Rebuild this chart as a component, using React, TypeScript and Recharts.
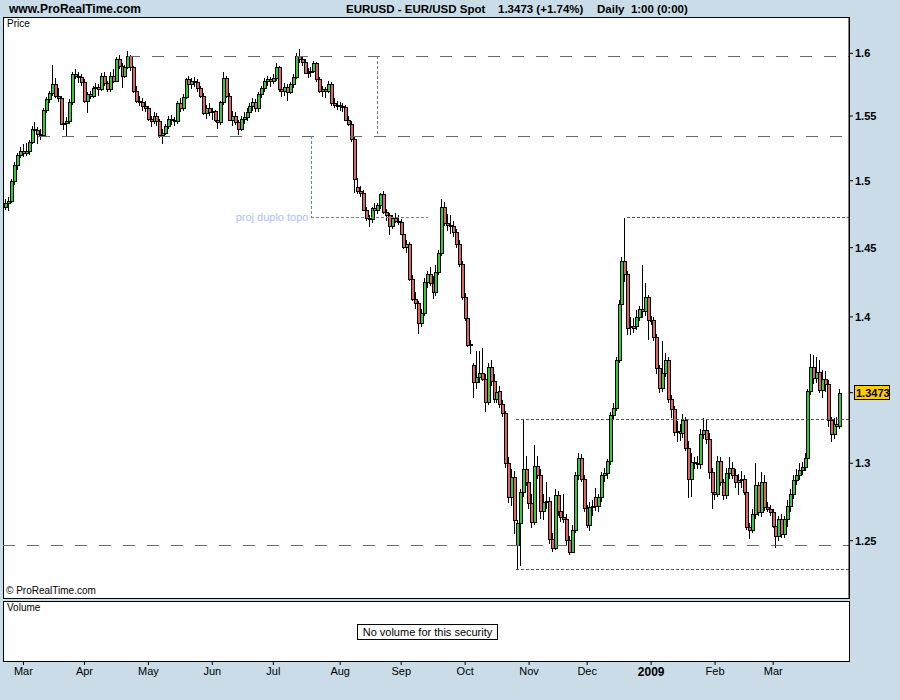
import React from 'react';
import { ComposedChart, Bar, Line, XAxis, YAxis, ReferenceLine, ReferenceDot } from 'recharts';

type Q = [number, number, number, number]; // open, high, low, close

const feb08: Q[] = [
  [1.4805,1.4860,1.4780,1.4830],[1.4830,1.4880,1.4770,1.4845],[1.4845,1.5010,1.4830,1.5000],
  [1.5000,1.5140,1.4970,1.5120],[1.5120,1.5215,1.5080,1.5200],[1.5200,1.5260,1.5170,1.5225],
];
const mar08: Q[] = [
  [1.5225,1.5280,1.5180,1.5210],[1.5210,1.5290,1.5190,1.5230],[1.5230,1.5310,1.5200,1.5300],
  [1.5300,1.5420,1.5280,1.5400],[1.5400,1.5450,1.5360,1.5390],[1.5390,1.5410,1.5285,1.5360],
  [1.5360,1.5395,1.5310,1.5350],[1.5350,1.5560,1.5340,1.5545],[1.5545,1.5650,1.5520,1.5630],
  [1.5630,1.5700,1.5600,1.5680],[1.5680,1.5905,1.5660,1.5750],[1.5750,1.5800,1.5640,1.5660],
  [1.5660,1.5720,1.5610,1.5640],[1.5640,1.5660,1.5430,1.5440],[1.5440,1.5480,1.5390,1.5445],
  [1.5445,1.5490,1.5340,1.5460],[1.5460,1.5630,1.5440,1.5610],[1.5610,1.5850,1.5590,1.5830],
  [1.5830,1.5870,1.5790,1.5820],[1.5820,1.5850,1.5760,1.5810],[1.5810,1.5830,1.5740,1.5770],
];
const apr08: Q[] = [
  [1.5770,1.5790,1.5600,1.5620],[1.5620,1.5690,1.5525,1.5670],[1.5670,1.5700,1.5630,1.5660],
  [1.5660,1.5740,1.5640,1.5720],[1.5720,1.5760,1.5680,1.5730],[1.5730,1.5750,1.5660,1.5710],
  [1.5710,1.5840,1.5700,1.5820],[1.5820,1.5850,1.5740,1.5760],[1.5760,1.5780,1.5690,1.5710],
  [1.5710,1.5850,1.5690,1.5820],[1.5820,1.5870,1.5760,1.5780],[1.5780,1.5970,1.5770,1.5950],
  [1.5950,1.5990,1.5870,1.5900],[1.5900,1.5920,1.5725,1.5820],[1.5820,1.5905,1.5800,1.5890],
  [1.5890,1.6020,1.5870,1.5980],[1.5980,1.5990,1.5860,1.5890],[1.5890,1.5900,1.5680,1.5700],
  [1.5700,1.5740,1.5600,1.5620],[1.5620,1.5660,1.5580,1.5610],[1.5610,1.5640,1.5540,1.5580],
  [1.5580,1.5620,1.5530,1.5560],
];
const may08: Q[] = [
  [1.5560,1.5580,1.5460,1.5480],[1.5480,1.5500,1.5410,1.5460],[1.5460,1.5530,1.5440,1.5500],
  [1.5500,1.5520,1.5420,1.5460],[1.5460,1.5480,1.5330,1.5350],[1.5350,1.5400,1.5285,1.5370],
  [1.5370,1.5440,1.5350,1.5420],[1.5420,1.5500,1.5400,1.5480],[1.5480,1.5510,1.5430,1.5470],
  [1.5470,1.5490,1.5420,1.5460],[1.5460,1.5620,1.5440,1.5600],[1.5600,1.5640,1.5530,1.5560],
  [1.5560,1.5670,1.5540,1.5650],[1.5650,1.5800,1.5630,1.5790],[1.5790,1.5820,1.5720,1.5750],
  [1.5750,1.5800,1.5710,1.5780],[1.5780,1.5810,1.5730,1.5770],[1.5770,1.5790,1.5690,1.5720],
  [1.5720,1.5740,1.5640,1.5660],[1.5660,1.5680,1.5510,1.5525],[1.5525,1.5590,1.5480,1.5560],
  [1.5560,1.5600,1.5500,1.5530],
];
const jun08: Q[] = [
  [1.5530,1.5560,1.5470,1.5540],[1.5540,1.5550,1.5450,1.5470],[1.5470,1.5500,1.5400,1.5450],
  [1.5450,1.5620,1.5430,1.5610],[1.5610,1.5850,1.5590,1.5800],[1.5800,1.5820,1.5640,1.5660],
  [1.5660,1.5680,1.5460,1.5470],[1.5470,1.5540,1.5420,1.5500],[1.5500,1.5530,1.5430,1.5450],
  [1.5450,1.5470,1.5350,1.5400],[1.5400,1.5500,1.5380,1.5480],[1.5480,1.5530,1.5440,1.5490],
  [1.5490,1.5560,1.5460,1.5530],[1.5530,1.5600,1.5500,1.5580],[1.5580,1.5640,1.5540,1.5610],
  [1.5610,1.5630,1.5530,1.5560],[1.5560,1.5690,1.5530,1.5670],[1.5670,1.5740,1.5640,1.5720],
  [1.5720,1.5800,1.5690,1.5780],[1.5780,1.5820,1.5740,1.5790],[1.5790,1.5810,1.5730,1.5780],
];
const jul08: Q[] = [
  [1.5780,1.5830,1.5750,1.5800],[1.5800,1.5920,1.5780,1.5890],[1.5890,1.5900,1.5690,1.5710],
  [1.5710,1.5740,1.5650,1.5700],[1.5700,1.5760,1.5660,1.5730],[1.5730,1.5750,1.5620,1.5690],
  [1.5690,1.5770,1.5670,1.5750],[1.5750,1.5830,1.5720,1.5810],[1.5810,1.6000,1.5790,1.5980],
  [1.5980,1.6038,1.5920,1.5950],[1.5950,1.5980,1.5900,1.5930],[1.5930,1.5950,1.5830,1.5840],
  [1.5840,1.5880,1.5800,1.5850],[1.5850,1.5890,1.5810,1.5860],[1.5860,1.5940,1.5840,1.5920],
  [1.5920,1.5930,1.5770,1.5790],[1.5790,1.5810,1.5680,1.5700],[1.5700,1.5740,1.5650,1.5710],
  [1.5710,1.5730,1.5640,1.5700],[1.5700,1.5780,1.5680,1.5750],[1.5750,1.5770,1.5580,1.5600],
  [1.5600,1.5640,1.5560,1.5590],[1.5590,1.5620,1.5550,1.5585],
];
const aug08: Q[] = [
  [1.5585,1.5610,1.5540,1.5575],[1.5575,1.5600,1.5530,1.5570],[1.5570,1.5590,1.5460,1.5470],
  [1.5470,1.5500,1.5420,1.5440],[1.5440,1.5460,1.5300,1.5320],[1.5320,1.5340,1.4910,1.5010],
  [1.4950,1.5020,1.4900,1.4920],[1.4920,1.4960,1.4880,1.4905],[1.4905,1.4930,1.4770,1.4780],
  [1.4780,1.4800,1.4700,1.4720],[1.4720,1.4740,1.4655,1.4710],[1.4710,1.4800,1.4680,1.4795],
  [1.4795,1.4830,1.4740,1.4780],[1.4780,1.4830,1.4750,1.4815],[1.4815,1.4910,1.4790,1.4900],
  [1.4900,1.4920,1.4750,1.4765],[1.4765,1.4790,1.4700,1.4740],[1.4740,1.4760,1.4597,1.4660],
  [1.4660,1.4740,1.4640,1.4720],[1.4720,1.4760,1.4680,1.4700],[1.4700,1.4740,1.4670,1.4693],
];
const sep08: Q[] = [
  [1.4693,1.4710,1.4590,1.4602],[1.4602,1.4620,1.4490,1.4505],[1.4505,1.4560,1.4460,1.4525],
  [1.4525,1.4540,1.4260,1.4272],[1.4272,1.4300,1.4110,1.4130],[1.4130,1.4180,1.4060,1.4097],
  [1.4097,1.4110,1.3880,1.3955],[1.3955,1.4060,1.3930,1.4030],[1.4030,1.4280,1.4010,1.4248],
  [1.4248,1.4330,1.4210,1.4310],[1.4310,1.4360,1.4220,1.4245],[1.4245,1.4290,1.4130,1.4178],
  [1.4178,1.4370,1.4150,1.4323],[1.4323,1.4480,1.4300,1.4463],[1.4463,1.4865,1.4440,1.4800],
  [1.4800,1.4840,1.4660,1.4680],[1.4680,1.4750,1.4620,1.4665],[1.4665,1.4740,1.4600,1.4660],
  [1.4660,1.4700,1.4580,1.4615],[1.4615,1.4640,1.4500,1.4525],[1.4525,1.4560,1.4360,1.4380],
  [1.4380,1.4400,1.4120,1.4145],
];
const oct08: Q[] = [
  [1.4145,1.4170,1.3970,1.3990],[1.3990,1.4020,1.3790,1.3800],[1.3800,1.3840,1.3740,1.3810],
  [1.3660,1.3680,1.3440,1.3545],[1.3545,1.3760,1.3500,1.3580],[1.3580,1.3760,1.3540,1.3605],
  [1.3605,1.3780,1.3550,1.3570],[1.3570,1.3600,1.3340,1.3410],[1.3410,1.3680,1.3390,1.3650],
  [1.3650,1.3700,1.3520,1.3550],[1.3550,1.3600,1.3400,1.3430],[1.3430,1.3520,1.3400,1.3480],
  [1.3485,1.3520,1.3370,1.3395],[1.3395,1.3420,1.3310,1.3335],[1.3335,1.3350,1.2970,1.3003],
  [1.3003,1.3040,1.2740,1.2780],[1.2780,1.2960,1.2720,1.2910],[1.2910,1.2950,1.2540,1.2630],
  [1.2470,1.2630,1.2322,1.2610],[1.2610,1.2830,1.2340,1.2810],[1.2810,1.3298,1.2780,1.2960],
  [1.2960,1.3050,1.2850,1.2875],[1.2875,1.2950,1.2700,1.2740],
];
const nov08: Q[] = [
  [1.2740,1.2800,1.2580,1.2620],[1.2620,1.3120,1.2600,1.2980],[1.2980,1.3050,1.2900,1.2920],
  [1.2920,1.2960,1.2640,1.2690],[1.2690,1.2800,1.2630,1.2750],[1.2750,1.2875,1.2700,1.2755],
  [1.2755,1.2780,1.2480,1.2510],[1.2510,1.2550,1.2430,1.2455],[1.2455,1.2830,1.2440,1.2795],
  [1.2795,1.2820,1.2660,1.2690],[1.2690,1.2730,1.2620,1.2650],[1.2650,1.2800,1.2610,1.2637],
  [1.2637,1.2670,1.2470,1.2505],[1.2505,1.2530,1.2410,1.2430],[1.2430,1.2600,1.2420,1.2570],
  [1.2570,1.2940,1.2550,1.2920],[1.2920,1.3070,1.2890,1.3037],[1.3037,1.3060,1.2880,1.2900],
  [1.2900,1.2920,1.2680,1.2707],
];
const dec08: Q[] = [
  [1.2707,1.2730,1.2580,1.2600],[1.2600,1.2750,1.2560,1.2715],[1.2715,1.2760,1.2660,1.2720],
  [1.2780,1.2840,1.2690,1.2720],[1.2720,1.2800,1.2680,1.2780],[1.2780,1.2940,1.2750,1.2920],
  [1.2920,1.2970,1.2880,1.2935],[1.2935,1.3030,1.2900,1.3015],[1.3015,1.3340,1.2990,1.3320],
  [1.3320,1.3400,1.3290,1.3372],[1.3372,1.3720,1.3350,1.3700],[1.3700,1.4120,1.3680,1.4093],
  [1.4093,1.4430,1.4050,1.4400],[1.4400,1.4720,1.4250,1.4305],[1.4305,1.4330,1.3870,1.3925],
  [1.3935,1.4000,1.3870,1.3928],[1.3925,1.3990,1.3890,1.3935],[1.3935,1.4050,1.3910,1.4000],
  [1.4000,1.4080,1.3970,1.4060],[1.4060,1.4370,1.3990,1.4040],[1.4040,1.4240,1.4010,1.4140],
  [1.4140,1.4160,1.3835,1.3975],
];
const jan09: Q[] = [
  [1.3975,1.4010,1.3940,1.3980],[1.3980,1.4000,1.3830,1.3860],[1.3860,1.3880,1.3600,1.3640],
  [1.3640,1.3660,1.3470,1.3505],[1.3505,1.3830,1.3480,1.3610],[1.3610,1.3750,1.3580,1.3700],
  [1.3700,1.3720,1.3400,1.3430],[1.3430,1.3460,1.3300,1.3360],[1.3360,1.3380,1.3180,1.3210],
  [1.3210,1.3280,1.3140,1.3215],[1.3215,1.3260,1.3150,1.3200],[1.3200,1.3330,1.3170,1.3290],
  [1.3290,1.3310,1.3080,1.3100],[1.3100,1.3150,1.2775,1.2895],[1.2895,1.3070,1.2780,1.3007],
  [1.3007,1.3040,1.2960,1.3005],[1.3005,1.3050,1.2960,1.2995],[1.2995,1.3230,1.2960,1.3195],
  [1.3195,1.3300,1.3160,1.3220],[1.3220,1.3290,1.3130,1.3160],[1.3160,1.3200,1.2900,1.2940],
];
const feb09: Q[] = [
  [1.2940,1.2970,1.2700,1.2813],[1.2813,1.2880,1.2760,1.2800],[1.2800,1.3050,1.2780,1.3015],
  [1.3015,1.3040,1.2850,1.2875],[1.2875,1.2900,1.2760,1.2793],[1.2793,1.2970,1.2770,1.2935],
  [1.2935,1.3040,1.2900,1.2970],[1.2970,1.3010,1.2900,1.2925],[1.2925,1.2960,1.2840,1.2877],
  [1.2877,1.2930,1.2790,1.2890],[1.2890,1.2950,1.2840,1.2900],[1.2900,1.2920,1.2790,1.2810],
  [1.2810,1.2830,1.2570,1.2590],[1.2590,1.2610,1.2508,1.2570],[1.2570,1.2700,1.2550,1.2670],
  [1.2670,1.3000,1.2640,1.2855],[1.2855,1.2880,1.2660,1.2680],[1.2680,1.2945,1.2650,1.2880],
  [1.2880,1.2920,1.2690,1.2715],
];
const mar09: Q[] = [
  [1.2715,1.2750,1.2680,1.2705],[1.2705,1.2730,1.2660,1.2680],[1.2680,1.2700,1.2580,1.2596],
  [1.2596,1.2630,1.2457,1.2530],[1.2530,1.2660,1.2500,1.2637],[1.2637,1.2670,1.2520,1.2545],
  [1.2545,1.2660,1.2520,1.2637],[1.2637,1.2760,1.2590,1.2720],[1.2720,1.2830,1.2680,1.2800],
  [1.2800,1.2920,1.2770,1.2890],[1.2890,1.2960,1.2860,1.2925],[1.2925,1.3000,1.2890,1.2955],
  [1.2955,1.3010,1.2920,1.2975],[1.2975,1.3070,1.2950,1.3035],[1.3035,1.3500,1.3010,1.3485],
  [1.3485,1.3738,1.3460,1.3650],[1.3650,1.3730,1.3530,1.3575],[1.3575,1.3720,1.3540,1.3615],
  [1.3615,1.3700,1.3470,1.3490],[1.3490,1.3630,1.3440,1.3570],[1.3570,1.3620,1.3480,1.3530],
  [1.3530,1.3560,1.3240,1.3290],[1.3290,1.3310,1.3140,1.3195],[1.3195,1.3300,1.3160,1.3260],
  [1.3260,1.3310,1.3220,1.3245],[1.3245,1.3500,1.3230,1.3473],
];

const monthTicks = [6, 27, 49, 71, 92, 115, 136, 158, 180, 200, 222, 244, 264];
const monthLabels = ['Mar', 'Apr', 'May', 'Jun', 'Jul', 'Aug', 'Sep', 'Oct', 'Nov', 'Dec', '2009', 'Feb', 'Mar'];
const priceTicks = [1.25, 1.3, 1.3473, 1.4, 1.45, 1.5, 1.55, 1.6];
const lastPrice = 1.3473;

const X_MIN = -1.03;
const X_MAX = 290.08;
const Y_MIN = 1.21425;
const Y_MAX = 1.62969;

// horizontal levels: [start index, price]
const dashedLevels: [number, number][] = [[42, 1.5975], [11, 1.5341], [X_MIN, 1.2468]];
const dottedLevels: [number, number][] = [[213.6, 1.4724], [175.5, 1.3293], [175.5, 1.2322]];
const grayVertical = { x: 127.8, from: 1.5975, to: 1.5341 };
const blueVertical = { x: 105.1, from: 1.5341, to: 1.4724 };
const blueHorizontal = { from: 105.1, to: 145.2, y: 1.4724 };

const rows = [feb08, mar08, apr08, may08, jun08, jul08, aug08, sep08, oct08, nov08, dec08, jan09, feb09, mar09]
  .flat()
  .map((q, i) => ({ i, o: q[0], h: q[1], l: q[2], c: q[3], range: [q[2], q[1]] }));

const FONT = "'Liberation Sans', Arial, Helvetica, sans-serif";
const GREEN = '#33cc33';
const RED = '#e06262';
const BLUE = '#4a82f5';

function Candle(props: any) {
  const { x, y, width, height, payload } = props;
  if (!payload || typeof y !== 'number' || typeof height !== 'number') return null;
  const { o, h, l, c } = payload;
  const lnH = Math.log(h);
  const lnL = Math.log(l);
  const span = lnH - lnL;
  const toY = (p: number) => y + (span > 0 ? (height * (lnH - Math.log(Math.min(h, Math.max(l, p))))) / span : 0);
  const cx = Math.floor(x + width / 2);
  const yTop = Math.round(y);
  const yBot = Math.round(y + height);
  const bTop = Math.round(toY(Math.max(o, c)));
  const bBot = Math.round(toY(Math.min(o, c)));
  const outerH = Math.max(2, bBot - bTop + 1);
  const up = c >= o;
  return (
    <g shapeRendering="crispEdges">
      <rect x={cx} y={yTop} width={1} height={Math.max(1, yBot - yTop)} fill="#000" />
      <rect x={cx - 1} y={bTop} width={4} height={outerH} fill="#000" />
      {outerH > 2 && <rect x={cx} y={bTop + 1} width={2} height={outerH - 2} fill={up ? GREEN : RED} />}
    </g>
  );
}

function PriceTick(props: any) {
  const { x, y, payload } = props;
  const v = payload.value;
  if (v === lastPrice) {
    return (
      <g>
        <rect x={x - 1} y={y - 7} width={35} height={14} fill="#ffcc00" stroke="#000" shapeRendering="crispEdges" />
        <text x={x + 1} y={y + 4} fontSize={11} fontWeight="bold" fill="#000" fontFamily={FONT}>{v.toFixed(4)}</text>
      </g>
    );
  }
  return (
    <text x={x} y={y + 4} fontSize={11} fontWeight="bold" fill="#000" fontFamily={FONT}>{String(v)}</text>
  );
}

function MonthTick(props: any) {
  const { x, y, payload } = props;
  const idx = monthTicks.indexOf(payload.value);
  const label = monthLabels[idx] ?? '';
  const bold = label === '2009';
  return (
    <text x={x} y={y} dy="0.71em" textAnchor="middle" fontSize={bold ? 12 : 11} fontWeight={bold ? 'bold' : 'normal'} fill="#000" fontFamily={FONT}>
      {label}
    </text>
  );
}

const headStyle: React.CSSProperties = { position: 'absolute', top: 2, fontSize: 11.5, fontWeight: 'bold', lineHeight: '15px', color: '#000', whiteSpace: 'pre' };

export default function App() {
  return (
    <div style={{ position: 'absolute', left: 0, top: 0, width: 900, height: 700, background: '#c9dce7', fontFamily: FONT, overflow: 'hidden' }}>
      {/* header */}
      <div style={{ ...headStyle, left: 9, fontSize: 12 }}>www.ProRealTime.com</div>
      <div style={{ ...headStyle, left: 346 }}>EURUSD - EUR/USD Spot</div>
      <div style={{ ...headStyle, left: 498 }}>1.3473 (+1.74%)</div>
      <div style={{ ...headStyle, left: 597 }}>Daily  1:00 (0:00)</div>

      {/* panels */}
      <div style={{ position: 'absolute', left: 3, top: 17, width: 847, height: 582, boxSizing: 'border-box', border: '1px solid #000', background: '#fff' }} />
      <div style={{ position: 'absolute', left: 3, top: 601, width: 847, height: 61, boxSizing: 'border-box', border: '1px solid #000', background: '#fff' }} />
      <div style={{ position: 'absolute', left: 7, top: 18, fontSize: 10, lineHeight: '12px', color: '#000' }}>Price</div>
      <div style={{ position: 'absolute', left: 6, top: 585, fontSize: 10, lineHeight: '12px', color: '#000' }}>© ProRealTime.com</div>
      <div style={{ position: 'absolute', left: 7, top: 602, fontSize: 10, lineHeight: '12px', color: '#000' }}>Volume</div>
      <div style={{ position: 'absolute', left: 357, top: 624, width: 141, height: 16, boxSizing: 'border-box', border: '1px solid #000', background: '#fff', fontSize: 11, lineHeight: '14px', textAlign: 'center', color: '#000' }}>No volume for this security</div>

      {/* price chart */}
      <div style={{ position: 'absolute', left: 0, top: 0 }}>
        <ComposedChart width={900} height={700} data={rows} margin={{ top: 17, right: 0, bottom: 102, left: 3 }}>
          <XAxis type="number" dataKey="i" domain={[X_MIN, X_MAX]} allowDataOverflow hide />
          <YAxis
            orientation="right"
            width={51}
            scale="log"
            domain={[Y_MIN, Y_MAX]}
            allowDataOverflow
            ticks={priceTicks}
            interval={0}
            tickSize={4}
            tickMargin={2}
            axisLine={{ stroke: '#000' }}
            tickLine={{ stroke: '#000' }}
            tick={<PriceTick />}
          />
          {dashedLevels.map(([from, y], k) => (
            <ReferenceLine key={'dl' + k} segment={[{ x: from, y }, { x: X_MAX, y }]} stroke="#6a6a6a" strokeDasharray="12 12" ifOverflow="visible" shapeRendering="crispEdges" />
          ))}
          {dottedLevels.map(([from, y], k) => (
            <ReferenceLine key={'dt' + k} segment={[{ x: from, y }, { x: X_MAX, y }]} stroke="#555" strokeDasharray="3 2" ifOverflow="visible" shapeRendering="crispEdges" />
          ))}
          <ReferenceLine segment={[{ x: grayVertical.x, y: grayVertical.from }, { x: grayVertical.x, y: grayVertical.to }]} stroke="#777" strokeDasharray="3 2" ifOverflow="visible" shapeRendering="crispEdges" />
          <ReferenceLine segment={[{ x: blueVertical.x, y: blueVertical.from }, { x: blueVertical.x, y: blueVertical.to }]} stroke={BLUE} strokeDasharray="3 2" ifOverflow="visible" shapeRendering="crispEdges" />
          <ReferenceLine segment={[{ x: blueHorizontal.from, y: blueHorizontal.y }, { x: blueHorizontal.to, y: blueHorizontal.y }]} stroke={BLUE} strokeDasharray="3 2" ifOverflow="visible" shapeRendering="crispEdges" />
          <ReferenceDot
            x={blueVertical.x}
            y={blueHorizontal.y}
            r={0}
            fill="none"
            stroke="none"
            ifOverflow="visible"
            label={{ value: 'proj duplo topo', position: 'left', offset: 3, fill: '#a9bff3', fontSize: 11, fontFamily: FONT }}
          />
          <Bar dataKey="range" barSize={4} isAnimationActive={false} shape={(p: any) => <Candle {...p} />} />
        </ComposedChart>
      </div>

      {/* volume panel axis */}
      <div style={{ position: 'absolute', left: 0, top: 0 }}>
        <ComposedChart width={900} height={700} data={rows} margin={{ top: 601, right: 51, bottom: 9, left: 3 }}>
          <XAxis
            type="number"
            dataKey="i"
            domain={[X_MIN, X_MAX]}
            allowDataOverflow
            ticks={monthTicks}
            interval={0}
            height={30}
            tickSize={4}
            tickMargin={2}
            axisLine={false}
            tickLine={{ stroke: '#000' }}
            tick={<MonthTick />}
          />
          <YAxis hide domain={[0, 1]} />
          <Line dataKey="c" stroke="transparent" dot={false} isAnimationActive={false} />
        </ComposedChart>
      </div>
    </div>
  );
}
